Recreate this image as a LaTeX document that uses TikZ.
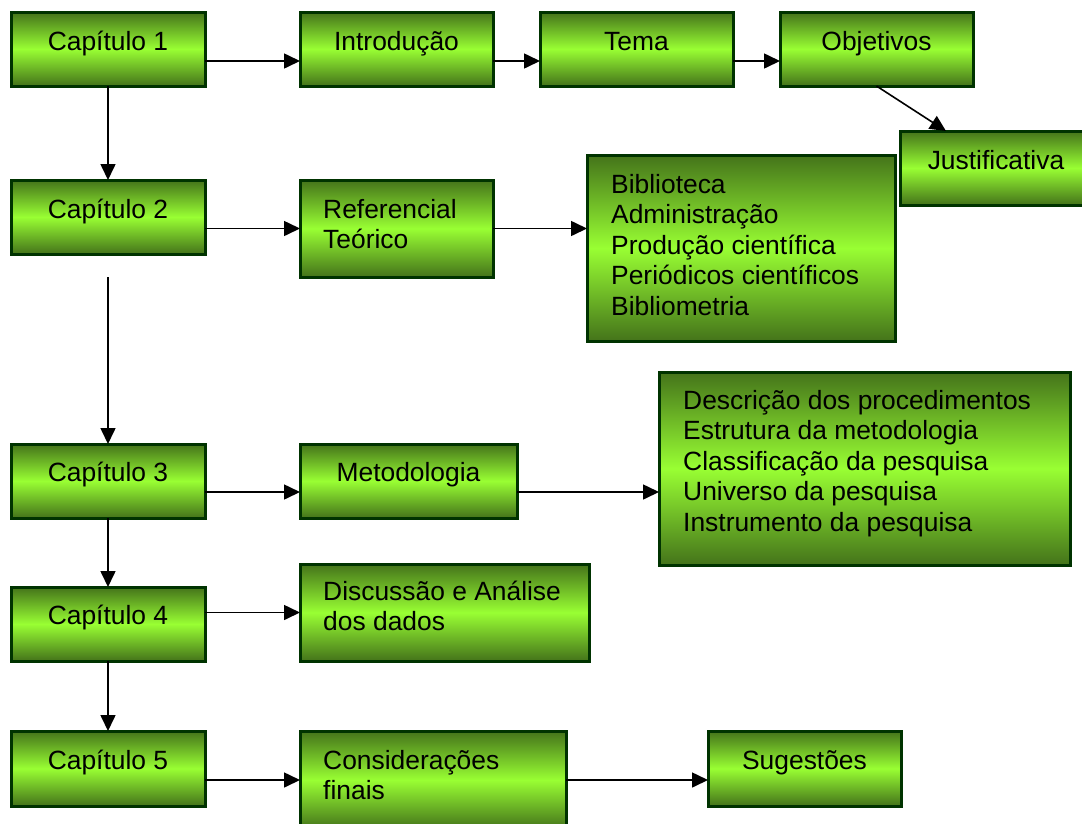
\documentclass[tikz,border=0pt]{standalone}
\usepackage{fontspec}
\setmainfont{Liberation Sans}
\usetikzlibrary{calc,arrows.meta}
\definecolor{gdark}{RGB}{68,115,26}
\definecolor{glight}{RGB}{153,255,51}
\definecolor{gborder}{RGB}{0,51,0}
\newcommand{\ml}[1]{\begin{tabular}[t]{@{}l@{}}#1\end{tabular}}
\tikzset{
  box/.style 2 args={draw=gborder, line width=3pt, top color=gdark, bottom color=gdark,
    middle color=glight, anchor=north west, inner sep=0pt, outer sep=0pt,
    minimum width=#1pt, minimum height=#2pt},
  txt/.style={inner sep=0pt, font=\fontsize{26.4}{30.5}\selectfont},
  ctxt/.style={txt, anchor=base},
  ltxt/.style={txt, anchor=base west},
  arr/.style={line width=1.6pt, -{Triangle[length=16pt,width=15pt]}}
}
\begin{document}
\begin{tikzpicture}[x=1pt,y=-1pt]
\useasboundingbox (0,0) rectangle (1082,823);
% boxes
\node[box={194}{74}] (c1) at (11,12) {};
\node[box={193}{74}] (intro) at (300,12) {};
\node[box={193}{74}] (tema) at (540,12) {};
\node[box={193}{74}] (obj) at (780,12) {};
\node[box={192}{74}] (just) at (900,131) {};
\node[box={194}{74}] (c2) at (11,180) {};
\node[box={193}{97}] (ref) at (300,180) {};
\node[box={308}{186}] (bib) at (587,155) {};
\node[box={194}{74}] (c3) at (11,444) {};
\node[box={217}{74}] (met) at (300,444) {};
\node[box={411}{193}] (desc) at (659,372) {};
\node[box={194}{74}] (c4) at (11,587) {};
\node[box={289}{97}] (disc) at (300,564) {};
\node[box={194}{75}] (c5) at (11,731) {};
\node[box={266}{98}] (cons) at (300,731) {};
\node[box={193}{75}] (sug) at (708,731) {};
% texts
\node[ctxt] (t1) at ($(c1.north)+(0,38)$) {Capítulo 1};
\node[ctxt] (t2) at ($(intro.north)+(0,38)$) {Introdução};
\node[ctxt] (t3) at ($(tema.north)+(0,38)$) {Tema};
\node[ctxt] (t4) at ($(obj.north)+(0,38)$) {Objetivos};
\node[ctxt] (t5) at ($(just.north)+(0,38)$) {Justificativa};
\node[ctxt] (t6) at ($(c2.north)+(0,38)$) {Capítulo 2};
\node[ltxt] (t7) at ($(ref.north west)+(23,38)$) {\ml{Referencial\\Teórico}};
\node[ltxt] (t8) at ($(bib.north west)+(24,38)$) {\ml{Biblioteca\\Administração\\Produção científica\\Periódicos científicos\\Bibliometria}};
\node[ctxt] (t9) at ($(c3.north)+(0,37)$) {Capítulo 3};
\node[ctxt] (t10) at ($(met.north)+(0,37)$) {Metodologia};
\node[ltxt] (t11) at ($(desc.north west)+(24,37)$) {\ml{Descrição dos procedimentos\\Estrutura da metodologia\\Classificação da pesquisa\\Universo da pesquisa\\Instrumento da pesquisa}};
\node[ctxt] (t12) at ($(c4.north)+(0,37)$) {Capítulo 4};
\node[ltxt] (t13) at ($(disc.north west)+(23,36)$) {\ml{Discussão e Análise\\dos dados}};
\node[ctxt] (t14) at ($(c5.north)+(0,38)$) {Capítulo 5};
\node[ltxt] (t15) at ($(cons.north west)+(23,38)$) {\ml{Considerações\\finais}};
\node[ctxt] (t16) at ($(sug.north)+(0,38)$) {Sugestões};
% connectors
\draw[arr] ([yshift=-12pt]c1.east) -- ([yshift=-12pt]intro.west);
\draw[arr] ([yshift=-12pt]intro.east) -- ([yshift=-12pt]tema.west);
\draw[arr] ([yshift=-12pt]tema.east) -- ([yshift=-12pt]obj.west);
\draw[arr] (obj.south) -- ([xshift=46pt]just.north west);
\draw[arr] (c1.south) -- (c2.north);
\draw[arr] (c2.east |- ref.west) -- (ref.west);
\draw[arr] (ref.east) -- (ref.east -| bib.west);
\coordinate (s3) at (108,277);
\draw[arr] (s3) -- (c3.north);
\draw[arr] ([yshift=-11pt]c3.east) -- ([yshift=-11pt]met.west);
\coordinate (m3) at ([yshift=-11pt]met.east);
\draw[arr] (m3) -- (m3 -| desc.west);
\draw[arr] (c3.south) -- (c4.north);
\draw[arr] (c4.east |- disc.west) -- (disc.west);
\draw[arr] (c4.south) -- (c5.north);
\draw[arr] (c5.east |- cons.west) -- (cons.west);
\draw[arr] (cons.east) -- (cons.east -| sug.west);
\end{tikzpicture}
\end{document}
